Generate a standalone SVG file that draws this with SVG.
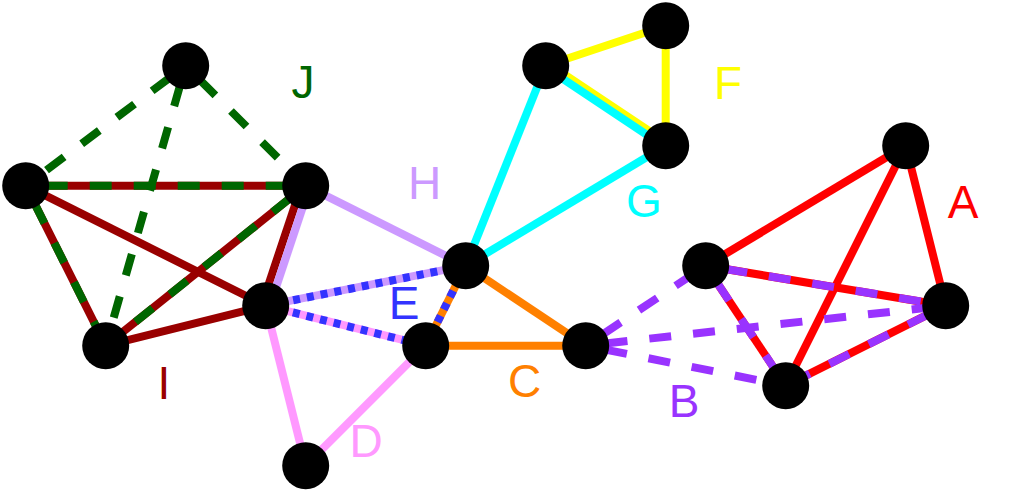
<svg xmlns="http://www.w3.org/2000/svg" width="1012" height="492" viewBox="0 0 1012 492">
<style>
.e{stroke-width:8;fill:none;stroke-linecap:butt}
.I{stroke:#990000}
.J{stroke:#006600;stroke-dasharray:22 22;stroke-dashoffset:24}
.H{stroke:#cc99ff}
.D{stroke:#ff99ff}
.C{stroke:#ff8000}
.E{stroke:#3333ff;stroke-dasharray:7 7}
.F{stroke:#ffff00}
.G{stroke:#00ffff}
.A{stroke:#ff0000}
.B{stroke:#9933ff;stroke-dasharray:22 22;stroke-dashoffset:24}
.n{fill:#000}
.t{font-family:"Liberation Sans",Arial,sans-serif;font-size:46px;text-anchor:middle}
</style>
<rect width="1012" height="492" fill="#fff"/>
<g id="connectors">
<line class="e I" x1="25.7" y1="185.7" x2="305.7" y2="185.7"/>
<line class="e I" x1="25.7" y1="185.7" x2="105.7" y2="345.7"/>
<line class="e I" x1="25.7" y1="185.7" x2="265.7" y2="305.7"/>
<line class="e I" x1="305.7" y1="185.7" x2="105.7" y2="345.7"/>
<line class="e I" x1="301.9" y1="184.4" x2="261.9" y2="304.4"/>
<line class="e I" x1="105.7" y1="345.7" x2="265.7" y2="305.7"/>
<line class="e J" x1="185.7" y1="65.7" x2="25.7" y2="185.7"/>
<line class="e J" x1="185.7" y1="65.7" x2="305.7" y2="185.7"/>
<line class="e J" x1="185.7" y1="65.7" x2="105.7" y2="345.7"/>
<line class="e J" x1="25.7" y1="185.7" x2="305.7" y2="185.7"/>
<line class="e J" x1="25.7" y1="185.7" x2="105.7" y2="345.7"/>
<line class="e J" x1="305.7" y1="185.7" x2="105.7" y2="345.7"/>
<line class="e H" x1="309.5" y1="187.0" x2="269.5" y2="307.0"/>
<line class="e H" x1="305.7" y1="185.7" x2="465.7" y2="265.7"/>
<line class="e H" x1="265.7" y1="305.7" x2="465.7" y2="265.7"/>
<line class="e D" x1="265.7" y1="305.7" x2="425.7" y2="345.7"/>
<line class="e D" x1="265.7" y1="305.7" x2="305.7" y2="465.7"/>
<line class="e D" x1="425.7" y1="345.7" x2="305.7" y2="465.7"/>
<line class="e C" x1="465.7" y1="265.7" x2="425.7" y2="345.7"/>
<line class="e C" x1="465.7" y1="265.7" x2="585.7" y2="345.7"/>
<line class="e C" x1="425.7" y1="345.7" x2="585.7" y2="345.7"/>
<line class="e E" x1="265.7" y1="305.7" x2="465.7" y2="265.7"/>
<line class="e E" x1="265.7" y1="305.7" x2="425.7" y2="345.7"/>
<line class="e E" x1="465.7" y1="265.7" x2="425.7" y2="345.7"/>
<line class="e F" x1="545.7" y1="65.7" x2="665.7" y2="25.7"/>
<line class="e F" x1="665.7" y1="25.7" x2="665.7" y2="145.7"/>
<line class="e F" x1="547.4" y1="63.2" x2="667.4" y2="143.2"/>
<line class="e G" x1="544.9" y1="66.9" x2="664.9" y2="146.9"/>
<line class="e G" x1="545.7" y1="65.7" x2="465.7" y2="265.7"/>
<line class="e G" x1="665.7" y1="145.7" x2="465.7" y2="265.7"/>
<line class="e A" x1="905.7" y1="145.7" x2="705.7" y2="265.7"/>
<line class="e A" x1="905.7" y1="145.7" x2="945.7" y2="305.7"/>
<line class="e A" x1="905.7" y1="145.7" x2="785.7" y2="385.7"/>
<line class="e A" x1="705.7" y1="265.7" x2="945.7" y2="305.7"/>
<line class="e A" x1="705.7" y1="265.7" x2="785.7" y2="385.7"/>
<line class="e A" x1="945.7" y1="305.7" x2="785.7" y2="385.7"/>
<line class="e B" x1="585.7" y1="345.7" x2="705.7" y2="265.7"/>
<line class="e B" x1="585.7" y1="345.7" x2="945.7" y2="305.7"/>
<line class="e B" x1="585.7" y1="345.7" x2="785.7" y2="385.7"/>
<line class="e B" x1="705.7" y1="265.7" x2="945.7" y2="305.7"/>
<line class="e B" x1="705.7" y1="265.7" x2="785.7" y2="385.7"/>
<line class="e B" x1="945.7" y1="305.7" x2="785.7" y2="385.7"/>
</g>
<g id="n1"><circle class="n" cx="185.7" cy="65.7" r="23.5"/></g>
<g id="n2"><circle class="n" cx="25.7" cy="185.7" r="23.5"/></g>
<g id="n3"><circle class="n" cx="305.7" cy="185.7" r="23.5"/></g>
<g id="n4"><circle class="n" cx="105.7" cy="345.7" r="23.5"/></g>
<g id="n5"><circle class="n" cx="265.7" cy="305.7" r="23.5"/></g>
<g id="n6"><circle class="n" cx="465.7" cy="265.7" r="23.5"/></g>
<g id="n7"><circle class="n" cx="425.7" cy="345.7" r="23.5"/></g>
<g id="n8"><circle class="n" cx="305.7" cy="465.7" r="23.5"/></g>
<g id="n9"><circle class="n" cx="585.7" cy="345.7" r="23.5"/></g>
<g id="n10"><circle class="n" cx="545.7" cy="65.7" r="23.5"/></g>
<g id="n11"><circle class="n" cx="665.7" cy="25.7" r="23.5"/></g>
<g id="n12"><circle class="n" cx="665.7" cy="145.7" r="23.5"/></g>
<g id="n13"><circle class="n" cx="905.7" cy="145.7" r="23.5"/></g>
<g id="n14"><circle class="n" cx="705.7" cy="265.7" r="23.5"/></g>
<g id="n15"><circle class="n" cx="945.7" cy="305.7" r="23.5"/></g>
<g id="n16"><circle class="n" cx="785.7" cy="385.7" r="23.5"/></g>
<g id="labels">
<text class="t" x="303" y="98" fill="#006600">J</text>
<text class="t" x="164" y="399" fill="#990000">I</text>
<text class="t" x="424.5" y="199" fill="#cc99ff">H</text>
<text class="t" x="404" y="319" fill="#3333ff">E</text>
<text class="t" x="366" y="457" fill="#ff99ff">D</text>
<text class="t" x="524.5" y="397" fill="#ff8000">C</text>
<text class="t" x="644" y="217" fill="#00ffff">G</text>
<text class="t" x="728" y="99" fill="#ffff00">F</text>
<text class="t" x="963" y="218" fill="#ff0000">A</text>
<text class="t" x="684" y="417" fill="#9933ff">B</text>
</g>
</svg>
